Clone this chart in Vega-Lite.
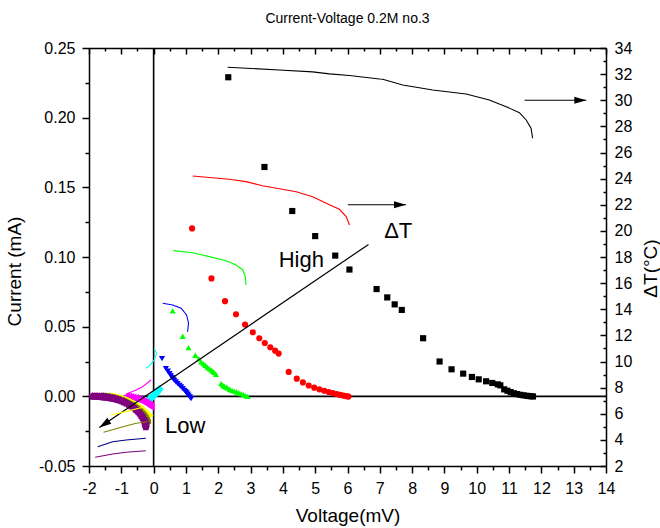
{
  "$schema": "https://vega.github.io/schema/vega-lite/v6.json",
  "width": 517,
  "height": 418,
  "autosize": {"type": "none"},
  "padding": {"left": 89, "top": 48, "right": 54, "bottom": 62},
  "background": "white",
  "title": {"text": "Current-Voltage 0.2M no.3", "font": "Liberation Sans", "fontSize": 14, "fontWeight": "normal", "color": "black", "anchor": "middle", "offset": 14},
  "config": {
    "view": {"stroke": null},
    "axis": {"grid": false, "domainColor": "black", "domainWidth": 1.5, "tickColor": "black", "tickWidth": 1.5, "labelColor": "black", "labelFont": "Liberation Sans", "labelFontSize": 16, "titleColor": "black", "titleFont": "Liberation Sans", "titleFontSize": 19, "titleFontWeight": "normal", "labelPadding": 7, "labelFlush": false, "labelOverlap": false}
  },
  "datasets": {
    "zero": [
      {"x1": -2, "x2": 14, "y1": 0, "y2": 0},
      {"x1": 0, "x2": 0, "y1": -0.05, "y2": 0.25}
    ],
    "pts": [
      {"s": "k", "V": 2.31, "I": 0.229}, {"s": "k", "V": 3.43, "I": 0.1646}, {"s": "k", "V": 4.29, "I": 0.133}, {"s": "k", "V": 5.0, "I": 0.115}, {"s": "k", "V": 5.62, "I": 0.101}, {"s": "k", "V": 6.06, "I": 0.091}, {"s": "k", "V": 6.9, "I": 0.077}, {"s": "k", "V": 7.23, "I": 0.071}, {"s": "k", "V": 7.46, "I": 0.066}, {"s": "k", "V": 7.68, "I": 0.062}, {"s": "k", "V": 8.34, "I": 0.0417}, {"s": "k", "V": 8.85, "I": 0.025}, {"s": "k", "V": 9.22, "I": 0.0194}, {"s": "k", "V": 9.58, "I": 0.0163}, {"s": "k", "V": 9.85, "I": 0.0139}, {"s": "k", "V": 10.06, "I": 0.0122}, {"s": "k", "V": 10.29, "I": 0.0108}, {"s": "k", "V": 10.48, "I": 0.0096}, {"s": "k", "V": 10.65, "I": 0.0086}, {"s": "k", "V": 10.73, "I": 0.0079}, {"s": "k", "V": 10.85, "I": 0.005}, {"s": "k", "V": 10.95, "I": 0.004}, {"s": "k", "V": 11.05, "I": 0.003}, {"s": "k", "V": 11.15, "I": 0.0022}, {"s": "k", "V": 11.25, "I": 0.0016}, {"s": "k", "V": 11.35, "I": 0.0011}, {"s": "k", "V": 11.45, "I": 0.0007}, {"s": "k", "V": 11.55, "I": 0.0004}, {"s": "k", "V": 11.62, "I": 0.0002}, {"s": "k", "V": 11.68, "I": 0.0001}, {"s": "k", "V": 11.74, "I": -0.0001},
      {"s": "r", "V": 1.19, "I": 0.1205}, {"s": "r", "V": 1.79, "I": 0.0846}, {"s": "r", "V": 2.21, "I": 0.0683}, {"s": "r", "V": 2.55, "I": 0.0589}, {"s": "r", "V": 2.83, "I": 0.0515}, {"s": "r", "V": 3.07, "I": 0.046}, {"s": "r", "V": 3.27, "I": 0.0417}, {"s": "r", "V": 3.44, "I": 0.0383}, {"s": "r", "V": 3.61, "I": 0.0352}, {"s": "r", "V": 3.76, "I": 0.0328}, {"s": "r", "V": 3.87, "I": 0.0307}, {"s": "r", "V": 4.18, "I": 0.0175}, {"s": "r", "V": 4.43, "I": 0.0127}, {"s": "r", "V": 4.62, "I": 0.01}, {"s": "r", "V": 4.8, "I": 0.0078}, {"s": "r", "V": 4.97, "I": 0.0062}, {"s": "r", "V": 5.13, "I": 0.005}, {"s": "r", "V": 5.28, "I": 0.004}, {"s": "r", "V": 5.42, "I": 0.0031}, {"s": "r", "V": 5.55, "I": 0.0023}, {"s": "r", "V": 5.67, "I": 0.0016}, {"s": "r", "V": 5.78, "I": 0.001}, {"s": "r", "V": 5.88, "I": 0.0005}, {"s": "r", "V": 5.97, "I": 0.0001}, {"s": "r", "V": 6.03, "I": -0.0002},
      {"s": "g", "V": 0.59, "I": 0.0613}, {"s": "g", "V": 0.9, "I": 0.0431}, {"s": "g", "V": 1.08, "I": 0.035}, {"s": "g", "V": 1.29, "I": 0.0295}, {"s": "g", "V": 1.4, "I": 0.027}, {"s": "g", "V": 1.47, "I": 0.0247}, {"s": "g", "V": 1.54, "I": 0.0235}, {"s": "g", "V": 1.6, "I": 0.0223}, {"s": "g", "V": 1.66, "I": 0.021}, {"s": "g", "V": 1.72, "I": 0.0199}, {"s": "g", "V": 1.78, "I": 0.019}, {"s": "g", "V": 1.83, "I": 0.018}, {"s": "g", "V": 1.88, "I": 0.017}, {"s": "g", "V": 1.93, "I": 0.0158}, {"s": "g", "V": 2.09, "I": 0.0091}, {"s": "g", "V": 2.14, "I": 0.008}, {"s": "g", "V": 2.19, "I": 0.0072}, {"s": "g", "V": 2.24, "I": 0.0066}, {"s": "g", "V": 2.29, "I": 0.006}, {"s": "g", "V": 2.36, "I": 0.0051}, {"s": "g", "V": 2.43, "I": 0.0043}, {"s": "g", "V": 2.5, "I": 0.0037}, {"s": "g", "V": 2.57, "I": 0.0031}, {"s": "g", "V": 2.64, "I": 0.0025}, {"s": "g", "V": 2.71, "I": 0.0019}, {"s": "g", "V": 2.78, "I": 0.0012}, {"s": "g", "V": 2.84, "I": 0.0005}, {"s": "g", "V": 2.91, "I": 0.0},
      {"s": "b", "V": 0.26, "I": 0.0271}, {"s": "b", "V": 0.38, "I": 0.0199}, {"s": "b", "V": 0.44, "I": 0.018}, {"s": "b", "V": 0.49, "I": 0.0163}, {"s": "b", "V": 0.53, "I": 0.0148}, {"s": "b", "V": 0.57, "I": 0.0134}, {"s": "b", "V": 0.61, "I": 0.0124}, {"s": "b", "V": 0.64, "I": 0.0115}, {"s": "b", "V": 0.69, "I": 0.0103}, {"s": "b", "V": 0.74, "I": 0.0091}, {"s": "b", "V": 0.8, "I": 0.0079}, {"s": "b", "V": 0.85, "I": 0.0067}, {"s": "b", "V": 0.9, "I": 0.0055}, {"s": "b", "V": 0.95, "I": 0.0043}, {"s": "b", "V": 0.99, "I": 0.0033}, {"s": "b", "V": 1.02, "I": 0.0024}, {"s": "b", "V": 1.05, "I": 0.0015}, {"s": "b", "V": 1.08, "I": 0.0007}, {"s": "b", "V": 1.12, "I": -0.0005}, {"s": "b", "V": 1.16, "I": -0.0017}
    ],
    "low": [
      {"s": "c", "V": 0.18, "I": 0.0052}, {"s": "c", "V": 0.15, "I": 0.0042}, {"s": "c", "V": 0.12, "I": 0.0033}, {"s": "c", "V": 0.09, "I": 0.0025}, {"s": "c", "V": 0.06, "I": 0.0017}, {"s": "c", "V": 0.03, "I": 0.001}, {"s": "c", "V": 0.0, "I": 0.0003}, {"s": "c", "V": -0.03, "I": -0.0003}, {"s": "c", "V": -0.06, "I": -0.0008}, {"s": "c", "V": -0.09, "I": -0.0012}, {"s": "c", "V": -0.12, "I": -0.0016},
      {"s": "m", "V": -0.85, "I": 0.0}, {"s": "m", "V": -0.78, "I": -0.0003}, {"s": "m", "V": -0.71, "I": -0.0006}, {"s": "m", "V": -0.64, "I": -0.001}, {"s": "m", "V": -0.57, "I": -0.0014}, {"s": "m", "V": -0.5, "I": -0.0019}, {"s": "m", "V": -0.44, "I": -0.0024}, {"s": "m", "V": -0.38, "I": -0.003}, {"s": "m", "V": -0.32, "I": -0.0037}, {"s": "m", "V": -0.27, "I": -0.0044}, {"s": "m", "V": -0.22, "I": -0.0051}, {"s": "m", "V": -0.17, "I": -0.0058}, {"s": "m", "V": -0.13, "I": -0.0064}, {"s": "m", "V": -0.1, "I": -0.0069}, {"s": "m", "V": -0.08, "I": -0.0074},
      {"s": "y", "V": -1.25, "I": 0.0}, {"s": "y", "V": -1.18, "I": -0.0002}, {"s": "y", "V": -1.1, "I": -0.0005}, {"s": "y", "V": -1.02, "I": -0.0009}, {"s": "y", "V": -0.94, "I": -0.0014}, {"s": "y", "V": -0.86, "I": -0.002}, {"s": "y", "V": -0.78, "I": -0.0027}, {"s": "y", "V": -0.7, "I": -0.0035}, {"s": "y", "V": -0.62, "I": -0.0044}, {"s": "y", "V": -0.54, "I": -0.0054}, {"s": "y", "V": -0.47, "I": -0.0064}, {"s": "y", "V": -0.4, "I": -0.0075}, {"s": "y", "V": -0.34, "I": -0.0086}, {"s": "y", "V": -0.28, "I": -0.0098}, {"s": "y", "V": -0.23, "I": -0.011}, {"s": "y", "V": -0.18, "I": -0.0121}, {"s": "y", "V": -0.14, "I": -0.0131}, {"s": "y", "V": -0.11, "I": -0.014},
      {"s": "o", "V": -1.55, "I": 0.0}, {"s": "o", "V": -1.47, "I": -0.0002}, {"s": "o", "V": -1.38, "I": -0.0005}, {"s": "o", "V": -1.29, "I": -0.0009}, {"s": "o", "V": -1.2, "I": -0.0014}, {"s": "o", "V": -1.11, "I": -0.002}, {"s": "o", "V": -1.02, "I": -0.0027}, {"s": "o", "V": -0.93, "I": -0.0035}, {"s": "o", "V": -0.84, "I": -0.0044}, {"s": "o", "V": -0.75, "I": -0.0054}, {"s": "o", "V": -0.66, "I": -0.0065}, {"s": "o", "V": -0.58, "I": -0.0077}, {"s": "o", "V": -0.5, "I": -0.009}, {"s": "o", "V": -0.43, "I": -0.0104}, {"s": "o", "V": -0.37, "I": -0.0118}, {"s": "o", "V": -0.31, "I": -0.0133}, {"s": "o", "V": -0.26, "I": -0.0149}, {"s": "o", "V": -0.22, "I": -0.0165}, {"s": "o", "V": -0.19, "I": -0.0182},
      {"s": "n", "V": -1.73, "I": 0.0}, {"s": "n", "V": -1.65, "I": -0.0001}, {"s": "n", "V": -1.57, "I": -0.0003}, {"s": "n", "V": -1.49, "I": -0.0005}, {"s": "n", "V": -1.41, "I": -0.0008}, {"s": "n", "V": -1.33, "I": -0.0011}, {"s": "n", "V": -1.25, "I": -0.0015}, {"s": "n", "V": -1.17, "I": -0.002}, {"s": "n", "V": -1.09, "I": -0.0026}, {"s": "n", "V": -1.01, "I": -0.0033}, {"s": "n", "V": -0.93, "I": -0.0041}, {"s": "n", "V": -0.85, "I": -0.005}, {"s": "n", "V": -0.77, "I": -0.006}, {"s": "n", "V": -0.69, "I": -0.0071}, {"s": "n", "V": -0.61, "I": -0.0083}, {"s": "n", "V": -0.54, "I": -0.0096}, {"s": "n", "V": -0.47, "I": -0.011}, {"s": "n", "V": -0.41, "I": -0.0125}, {"s": "n", "V": -0.35, "I": -0.0141}, {"s": "n", "V": -0.3, "I": -0.0158}, {"s": "n", "V": -0.26, "I": -0.0176}, {"s": "n", "V": -0.23, "I": -0.0194},
      {"s": "p", "V": -1.89, "I": 0.0}, {"s": "p", "V": -1.82, "I": 0.0}, {"s": "p", "V": -1.75, "I": -0.0001}, {"s": "p", "V": -1.68, "I": -0.0002}, {"s": "p", "V": -1.61, "I": -0.0003}, {"s": "p", "V": -1.54, "I": -0.0005}, {"s": "p", "V": -1.47, "I": -0.0007}, {"s": "p", "V": -1.4, "I": -0.0009}, {"s": "p", "V": -1.33, "I": -0.0012}, {"s": "p", "V": -1.26, "I": -0.0015}, {"s": "p", "V": -1.19, "I": -0.0019}, {"s": "p", "V": -1.12, "I": -0.0023}, {"s": "p", "V": -1.05, "I": -0.0028}, {"s": "p", "V": -0.98, "I": -0.0034}, {"s": "p", "V": -0.91, "I": -0.0041}, {"s": "p", "V": -0.84, "I": -0.0049}, {"s": "p", "V": -0.77, "I": -0.0058}, {"s": "p", "V": -0.7, "I": -0.0068}, {"s": "p", "V": -0.63, "I": -0.008}, {"s": "p", "V": -0.56, "I": -0.0093}, {"s": "p", "V": -0.5, "I": -0.0106}, {"s": "p", "V": -0.44, "I": -0.0121}, {"s": "p", "V": -0.39, "I": -0.0136}, {"s": "p", "V": -0.35, "I": -0.0151}, {"s": "p", "V": -0.31, "I": -0.0166}, {"s": "p", "V": -0.28, "I": -0.0181}, {"s": "p", "V": -0.26, "I": -0.0195}, {"s": "p", "V": -0.25, "I": -0.0208}, {"s": "p", "V": -0.24, "I": -0.022}
    ],
    "dt": [
      {"s": "k", "o": 1, "V": 2.29, "T": 32.53}, {"s": "k", "o": 2, "V": 3.89, "T": 32.32}, {"s": "k", "o": 3, "V": 4.92, "T": 32.17}, {"s": "k", "o": 4, "V": 5.44, "T": 32.02}, {"s": "k", "o": 5, "V": 6.06, "T": 31.89}, {"s": "k", "o": 6, "V": 6.99, "T": 31.63}, {"s": "k", "o": 7, "V": 7.09, "T": 31.61}, {"s": "k", "o": 8, "V": 7.71, "T": 31.17}, {"s": "k", "o": 9, "V": 8.64, "T": 30.79}, {"s": "k", "o": 10, "V": 9.67, "T": 30.48}, {"s": "k", "o": 11, "V": 10.39, "T": 30.02}, {"s": "k", "o": 12, "V": 10.91, "T": 29.51}, {"s": "k", "o": 13, "V": 11.32, "T": 29.05}, {"s": "k", "o": 14, "V": 11.53, "T": 28.49}, {"s": "k", "o": 15, "V": 11.68, "T": 27.86}, {"s": "k", "o": 16, "V": 11.73, "T": 27.09},
      {"s": "r", "o": 1, "V": 1.21, "T": 24.2}, {"s": "r", "o": 2, "V": 2.34, "T": 23.95}, {"s": "r", "o": 3, "V": 2.86, "T": 23.77}, {"s": "r", "o": 4, "V": 3.37, "T": 23.46}, {"s": "r", "o": 5, "V": 3.89, "T": 23.23}, {"s": "r", "o": 6, "V": 4.41, "T": 23.0}, {"s": "r", "o": 7, "V": 4.92, "T": 22.62}, {"s": "r", "o": 8, "V": 5.44, "T": 22.0}, {"s": "r", "o": 9, "V": 5.75, "T": 21.65}, {"s": "r", "o": 10, "V": 5.96, "T": 21.09}, {"s": "r", "o": 11, "V": 6.06, "T": 20.45},
      {"s": "g", "o": 1, "V": 0.61, "T": 18.49}, {"s": "g", "o": 2, "V": 1.21, "T": 18.33}, {"s": "g", "o": 3, "V": 1.72, "T": 18.03}, {"s": "g", "o": 4, "V": 2.24, "T": 17.72}, {"s": "g", "o": 5, "V": 2.55, "T": 17.39}, {"s": "g", "o": 6, "V": 2.76, "T": 17.01}, {"s": "g", "o": 7, "V": 2.84, "T": 16.49}, {"s": "g", "o": 8, "V": 2.86, "T": 15.86},
      {"s": "b", "o": 1, "V": 0.28, "T": 14.46}, {"s": "b", "o": 2, "V": 0.59, "T": 14.33}, {"s": "b", "o": 3, "V": 0.85, "T": 14.08}, {"s": "b", "o": 4, "V": 1.02, "T": 13.56}, {"s": "b", "o": 5, "V": 1.08, "T": 12.93}, {"s": "b", "o": 6, "V": 1.05, "T": 12.28},
      {"s": "c", "o": 1, "V": 0.02, "T": 11.01}, {"s": "c", "o": 2, "V": 0.09, "T": 10.63}, {"s": "c", "o": 3, "V": 0.02, "T": 10.12}, {"s": "c", "o": 4, "V": -0.13, "T": 9.66}, {"s": "c", "o": 5, "V": -0.24, "T": 9.48},
      {"s": "m", "o": 1, "V": -0.85, "T": 7.51}, {"s": "m", "o": 2, "V": -0.54, "T": 7.82}, {"s": "m", "o": 3, "V": -0.34, "T": 8.07}, {"s": "m", "o": 4, "V": -0.08, "T": 8.58},
      {"s": "y", "o": 1, "V": -1.32, "T": 5.9}, {"s": "y", "o": 2, "V": -0.8, "T": 6.2}, {"s": "y", "o": 3, "V": -0.34, "T": 6.5},
      {"s": "o", "o": 1, "V": -1.55, "T": 4.58}, {"s": "o", "o": 2, "V": -1.06, "T": 4.93}, {"s": "o", "o": 3, "V": -0.54, "T": 5.27}, {"s": "o", "o": 4, "V": -0.19, "T": 5.39},
      {"s": "n", "o": 1, "V": -1.73, "T": 3.48}, {"s": "n", "o": 2, "V": -1.27, "T": 3.86}, {"s": "n", "o": 3, "V": -0.85, "T": 3.99}, {"s": "n", "o": 4, "V": -0.24, "T": 4.12},
      {"s": "p", "o": 1, "V": -1.81, "T": 2.67}, {"s": "p", "o": 2, "V": -1.27, "T": 2.92}, {"s": "p", "o": 3, "V": -0.85, "T": 3.05}, {"s": "p", "o": 4, "V": -0.24, "T": 3.17}
    ],
    "diag": [{"o": 1, "V": 6.65, "I": 0.109}, {"o": 2, "V": -1.68, "I": -0.0223}],
    "diagHead": [{"V": -1.68, "I": -0.0223}],
    "harr": [{"a": "a1", "V": 6.01, "T": 22}, {"a": "a1", "V": 7.81, "T": 22}, {"a": "a2", "V": 11.48, "T": 30}, {"a": "a2", "V": 13.39, "T": 30}],
    "harrHead": [{"V": 7.81, "T": 22}, {"V": 13.39, "T": 30}],
    "labels": [{"t": "High", "V": 4.57, "I": 0.0977}, {"t": "ΔT", "V": 7.57, "I": 0.1185}, {"t": "Low", "V": 0.98, "I": -0.0216}]
  },
  "layer": [
    {
      "layer": [
        {
          "data": {"name": "zero"},
          "mark": {"type": "rule", "color": "black", "strokeWidth": 1.6},
          "encoding": {
            "x": {"field": "x1", "type": "quantitative", "scale": {"domain": [-2, 14], "nice": false, "zero": false}, "axis": {"orient": "bottom", "values": [-2, -1, 0, 1, 2, 3, 4, 5, 6, 7, 8, 9, 10, 11, 12, 13, 14], "labelExpr": "datum.value < 0 ? '-' + format(-datum.value, 'd') : format(datum.value, 'd')", "tickSize": 7, "title": "Voltage(mV)", "titlePadding": 10}},
            "x2": {"field": "x2"},
            "y": {"field": "y1", "type": "quantitative", "scale": {"domain": [-0.05, 0.25], "nice": false, "zero": false}, "axis": {"orient": "left", "values": [-0.05, 0, 0.05, 0.1, 0.15, 0.2, 0.25], "labelExpr": "datum.value < 0 ? '-' + format(-datum.value, '.2f') : format(datum.value, '.2f')", "tickSize": 7, "title": "Current (mA)", "titlePadding": 14, "titleY": 223}},
            "y2": {"field": "y2"}
          }
        },
        {
          "data": {"name": "zero"},
          "mark": {"type": "rule", "opacity": 0},
          "encoding": {
            "x": {"field": "x1", "type": "quantitative", "scale": {"domain": [-2, 14], "nice": false, "zero": false}, "axis": {"orient": "bottom", "values": [-1.5, -0.5, 0.5, 1.5, 2.5, 3.5, 4.5, 5.5, 6.5, 7.5, 8.5, 9.5, 10.5, 11.5, 12.5, 13.5], "tickSize": 4, "labels": false, "domain": false, "title": null}},
            "x2": {"field": "x2"},
            "y": {"field": "y1", "type": "quantitative", "scale": {"domain": [-0.05, 0.25], "nice": false, "zero": false}, "axis": {"orient": "left", "values": [-0.025, 0.025, 0.075, 0.125, 0.175, 0.225], "tickSize": 4, "labels": false, "domain": false, "title": null}},
            "y2": {"field": "y2"}
          }
        },
        {
          "data": {"name": "zero"},
          "mark": {"type": "rule", "opacity": 0},
          "encoding": {
            "x": {"field": "x1", "type": "quantitative", "scale": {"domain": [-2, 14], "nice": false, "zero": false}, "axis": {"orient": "top", "values": [-2, -1, 0, 1, 2, 3, 4, 5, 6, 7, 8, 9, 10, 11, 12, 13, 14], "tickSize": -6, "labels": false, "domain": true, "title": null}},
            "x2": {"field": "x2"},
            "y": {"field": "y1", "type": "quantitative", "scale": {"domain": [-0.05, 0.25], "nice": false, "zero": false}, "axis": null},
            "y2": {"field": "y2"}
          }
        },
        {
          "data": {"name": "zero"},
          "mark": {"type": "rule", "opacity": 0},
          "encoding": {
            "x": {"field": "x1", "type": "quantitative", "scale": {"domain": [-2, 14], "nice": false, "zero": false}, "axis": {"orient": "top", "values": [-1.5, -0.5, 0.5, 1.5, 2.5, 3.5, 4.5, 5.5, 6.5, 7.5, 8.5, 9.5, 10.5, 11.5, 12.5, 13.5], "tickSize": -3, "labels": false, "domain": false, "title": null}},
            "x2": {"field": "x2"},
            "y": {"field": "y1", "type": "quantitative", "scale": {"domain": [-0.05, 0.25], "nice": false, "zero": false}, "axis": null},
            "y2": {"field": "y2"}
          }
        },
        {
          "data": {"name": "pts"},
          "mark": {"type": "point", "filled": true, "opacity": 1, "size": 38},
          "encoding": {
            "x": {"field": "V", "type": "quantitative", "scale": {"domain": [-2, 14], "nice": false, "zero": false}, "axis": null},
            "y": {"field": "I", "type": "quantitative", "scale": {"domain": [-0.05, 0.25], "nice": false, "zero": false}, "axis": null},
            "color": {"field": "s", "type": "nominal", "scale": {"domain": ["k", "r", "g", "b", "c", "m", "y", "o", "n", "p"], "range": ["#000000", "#FF0000", "#00FF00", "#0000FF", "#00FFFF", "#FF00FF", "#FFFF00", "#808000", "#000080", "#800080"]}, "legend": null},
            "shape": {"field": "s", "type": "nominal", "scale": {"domain": ["k", "r", "g", "b", "c", "m", "y", "o", "n", "p"], "range": ["square", "circle", "triangle-up", "triangle-down", "diamond", "triangle-left", "triangle-right", "M0,-1L0.866,-0.5L0.866,0.5L0,1L-0.866,0.5L-0.866,-0.5Z", "M0,-1L0.235,-0.324L0.951,-0.309L0.38,0.124L0.588,0.809L0,0.4L-0.588,0.809L-0.38,0.124L-0.951,-0.309L-0.235,-0.324Z", "M0,-1L0.951,-0.309L0.588,0.809L-0.588,0.809L-0.951,-0.309Z"]}, "legend": null}
          }
        },
        {
          "data": {"name": "low"},
          "mark": {"type": "point", "filled": true, "opacity": 1, "size": 70},
          "encoding": {
            "x": {"field": "V", "type": "quantitative", "scale": {"domain": [-2, 14], "nice": false, "zero": false}, "axis": null},
            "y": {"field": "I", "type": "quantitative", "scale": {"domain": [-0.05, 0.25], "nice": false, "zero": false}, "axis": null},
            "color": {"field": "s", "type": "nominal", "scale": {"domain": ["k", "r", "g", "b", "c", "m", "y", "o", "n", "p"], "range": ["#000000", "#FF0000", "#00FF00", "#0000FF", "#00FFFF", "#FF00FF", "#FFFF00", "#808000", "#000080", "#800080"]}, "legend": null},
            "shape": {"field": "s", "type": "nominal", "scale": {"domain": ["k", "r", "g", "b", "c", "m", "y", "o", "n", "p"], "range": ["square", "circle", "triangle-up", "triangle-down", "diamond", "triangle-left", "triangle-right", "M0,-1L0.866,-0.5L0.866,0.5L0,1L-0.866,0.5L-0.866,-0.5Z", "M0,-1L0.235,-0.324L0.951,-0.309L0.38,0.124L0.588,0.809L0,0.4L-0.588,0.809L-0.38,0.124L-0.951,-0.309L-0.235,-0.324Z", "M0,-1L0.951,-0.309L0.588,0.809L-0.588,0.809L-0.951,-0.309Z"]}, "legend": null}
          }
        },
        {
          "data": {"name": "diag"},
          "mark": {"type": "line", "color": "black", "strokeWidth": 1.2},
          "encoding": {
            "x": {"field": "V", "type": "quantitative", "scale": {"domain": [-2, 14], "nice": false, "zero": false}, "axis": null},
            "y": {"field": "I", "type": "quantitative", "scale": {"domain": [-0.05, 0.25], "nice": false, "zero": false}, "axis": null},
            "order": {"field": "o", "type": "quantitative"}
          }
        },
        {
          "data": {"name": "diagHead"},
          "mark": {"type": "point", "filled": true, "opacity": 1, "color": "black", "shape": "M0,0L0.3,1L-0.3,1Z", "size": 576, "angle": 236},
          "encoding": {
            "x": {"field": "V", "type": "quantitative", "scale": {"domain": [-2, 14], "nice": false, "zero": false}, "axis": null},
            "y": {"field": "I", "type": "quantitative", "scale": {"domain": [-0.05, 0.25], "nice": false, "zero": false}, "axis": null}
          }
        },
        {
          "data": {"name": "labels"},
          "mark": {"type": "text", "font": "Liberation Sans", "fontSize": 22, "color": "black", "align": "center", "baseline": "middle"},
          "encoding": {
            "x": {"field": "V", "type": "quantitative", "scale": {"domain": [-2, 14], "nice": false, "zero": false}, "axis": null},
            "y": {"field": "I", "type": "quantitative", "scale": {"domain": [-0.05, 0.25], "nice": false, "zero": false}, "axis": null},
            "text": {"field": "t"}
          }
        }
      ],
      "resolve": {"axis": {"x": "independent", "y": "independent"}}
    },
    {
      "layer": [
        {
          "data": {"name": "dt"},
          "mark": {"type": "line", "strokeWidth": 1.1},
          "encoding": {
            "x": {"field": "V", "type": "quantitative", "scale": {"domain": [-2, 14], "nice": false, "zero": false}, "axis": null},
            "y": {"field": "T", "type": "quantitative", "scale": {"domain": [2, 34], "nice": false, "zero": false}, "axis": {"orient": "right", "values": [2, 4, 6, 8, 10, 12, 14, 16, 18, 20, 22, 24, 26, 28, 30, 32, 34], "format": "d", "tickSize": -6, "labelPadding": 14, "title": "ΔT(°C)", "titleAngle": -90, "titleBaseline": "top", "titlePadding": 10, "titleY": 220}},
            "color": {"field": "s", "type": "nominal", "scale": {"domain": ["k", "r", "g", "b", "c", "m", "y", "o", "n", "p"], "range": ["#000000", "#FF0000", "#00FF00", "#0000FF", "#00FFFF", "#FF00FF", "#FFFF00", "#808000", "#000080", "#800080"]}, "legend": null},
            "order": {"field": "o", "type": "quantitative"}
          }
        },
        {
          "data": {"name": "harr"},
          "mark": {"type": "point", "opacity": 0},
          "encoding": {
            "x": {"field": "V", "type": "quantitative", "scale": {"domain": [-2, 14], "nice": false, "zero": false}, "axis": null},
            "y": {"field": "T", "type": "quantitative", "scale": {"domain": [2, 34], "nice": false, "zero": false}, "axis": {"orient": "right", "values": [3, 5, 7, 9, 11, 13, 15, 17, 19, 21, 23, 25, 27, 29, 31, 33], "tickSize": -3, "labels": false, "domain": false, "title": null}}
          }
        },
        {
          "data": {"name": "harr"},
          "mark": {"type": "line", "color": "black", "strokeWidth": 1.2},
          "encoding": {
            "x": {"field": "V", "type": "quantitative", "scale": {"domain": [-2, 14], "nice": false, "zero": false}, "axis": null},
            "y": {"field": "T", "type": "quantitative", "scale": {"domain": [2, 34], "nice": false, "zero": false}, "axis": null},
            "detail": {"field": "a", "type": "nominal"}
          }
        },
        {
          "data": {"name": "harrHead"},
          "mark": {"type": "point", "filled": true, "opacity": 1, "color": "black", "shape": "M0,0L0.3,1L-0.3,1Z", "size": 576, "angle": 90},
          "encoding": {
            "x": {"field": "V", "type": "quantitative", "scale": {"domain": [-2, 14], "nice": false, "zero": false}, "axis": null},
            "y": {"field": "T", "type": "quantitative", "scale": {"domain": [2, 34], "nice": false, "zero": false}, "axis": null}
          }
        }
      ],
      "resolve": {"axis": {"x": "independent", "y": "independent"}}
    }
  ],
  "resolve": {"scale": {"y": "independent"}, "axis": {"x": "independent", "y": "independent"}}
}
